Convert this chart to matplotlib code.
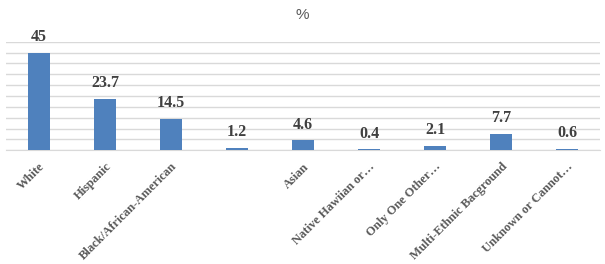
import matplotlib
matplotlib.use("Agg")
import matplotlib.pyplot as plt
import numpy as np

categories = ["White", "Hispanic", "Black/African-American", "", "Asian",
              "Native Hawiian or\u2026", "Only One Other\u2026",
              "Multi-Ethnic Bacground", "Unknown or Cannot\u2026"]
values = [45, 23.7, 14.5, 1.2, 4.6, 0.4, 2.1, 7.7, 0.6]
value_labels = ["45", "23.7", "14.5", "1.2", "4.6", "0.4", "2.1", "7.7", "0.6"]
title = "%"

fig = plt.figure(figsize=(6.05, 2.64), dpi=100)
ax = fig.add_axes([6/605, 1 - 150.3/264, 594/605, 108.6/264])

x = np.arange(len(categories))
ax.bar(x, values, width=0.32, color="#4f81bd", zorder=3)
ax.set_xlim(-0.5, len(categories) - 0.5)
ax.set_ylim(0, 50)
ax.set_yticks(np.arange(0, 51, 5))
ax.yaxis.grid(True, color="#d9d9d9", linewidth=1, zorder=0)
ax.tick_params(axis="y", left=False, labelleft=False)
ax.tick_params(axis="x", bottom=False, pad=4)
for s in ["top", "right", "left"]:
    ax.spines[s].set_visible(False)
ax.spines["bottom"].set_color("#d9d9d9")

serif = ["Liberation Serif", "DejaVu Serif"]
for xi, v, lab in zip(x, values, value_labels):
    ax.annotate(lab, (xi, v), xytext=(0, 5.5), textcoords="offset points",
                ha="center", va="bottom", fontsize=11.5, fontweight="bold",
                family=serif, color="#404040")

ax.set_xticks(x)
ax.set_xticklabels(categories, rotation=45, ha="right", rotation_mode="anchor",
                   fontsize=9, fontweight="bold", family=serif, color="#595959")

fig.text(0.5, 1 - 15/264, title, ha="center", va="center", fontsize=11,
         color="#595959", family=["Liberation Sans", "DejaVu Sans"])

fig.savefig("out.png", dpi=100)
